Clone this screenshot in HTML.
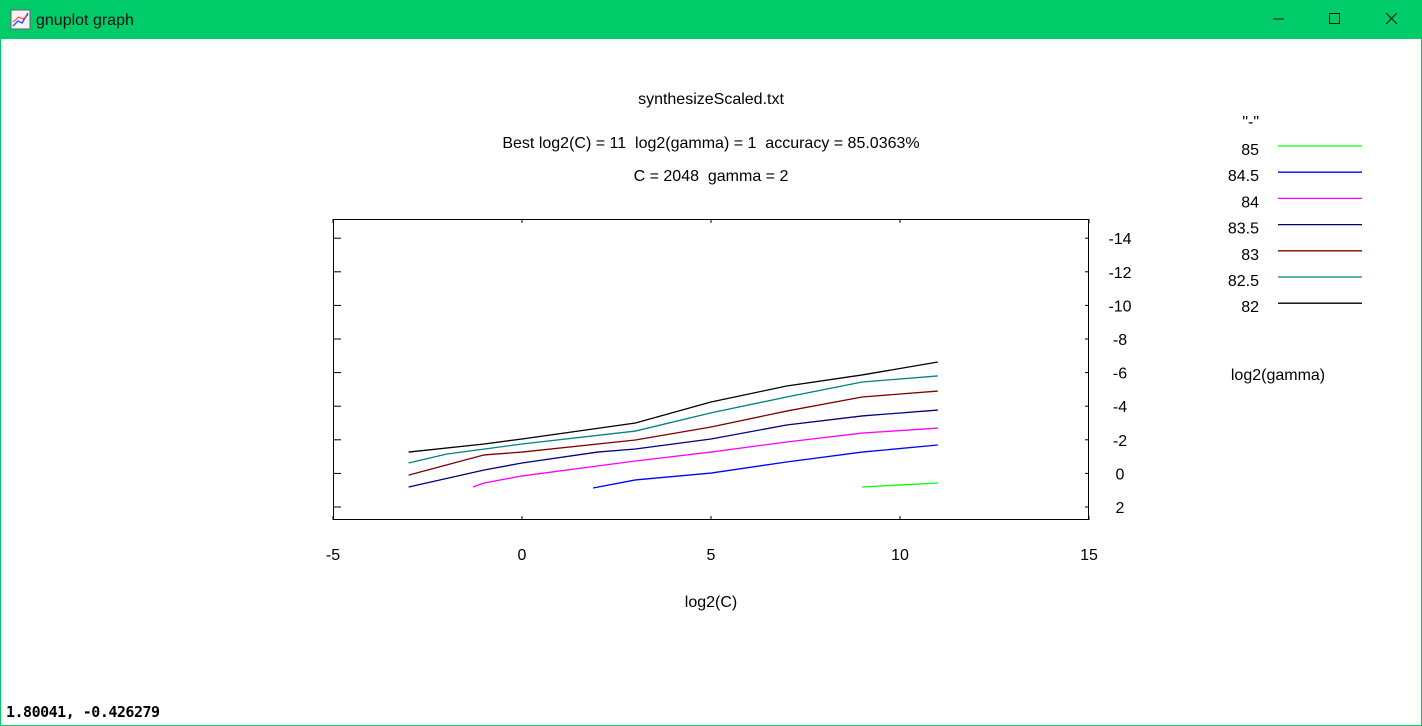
<!DOCTYPE html>
<html><head><meta charset="utf-8"><style>
body{margin:0;width:1422px;height:726px;overflow:hidden;background:#fff;font-family:"Liberation Sans",sans-serif}
#win{position:absolute;left:0;top:0;width:1420px;height:725px;border:1px solid #00cc66;border-top:none}
#bar{position:absolute;left:0;top:0;width:1422px;height:39px;background:#00cc6a}
</style></head><body>
<div id="win"></div>
<div id="bar">
<svg width="1422" height="39">
<rect x="11" y="10" width="19" height="19" fill="#f4f4f4" stroke="#666"/>
<polyline points="13,26 18,21 22,23 28,13" fill="none" stroke="#3355ff" stroke-width="1.5"/>
<polyline points="13,22 19,17 23,19 28,15" fill="none" stroke="#ff3333" stroke-width="1"/>
<text x="36" y="25" font-size="16" font-family="Liberation Sans, sans-serif" fill="#111">gnuplot graph</text>
<line x1="1273" y1="19" x2="1284" y2="19" stroke="#111"/>
<rect x="1329.5" y="13.5" width="10" height="10" fill="none" stroke="#111"/>
<g stroke="#111"><line x1="1386" y1="13" x2="1397" y2="24"/><line x1="1397" y1="13" x2="1386" y2="24"/></g>
</svg></div>
<svg id="chart" width="1422" height="726" style="position:absolute;left:0;top:0;pointer-events:none"></svg>
<div style="position:absolute;left:6px;top:703px;font-size:15px;font-weight:bold;font-family:'DejaVu Sans Mono','Liberation Mono',monospace;letter-spacing:-0.5px">1.80041, -0.426279</div>
<script>
const xTicks=[-5,0,5,10,15];
const yTicks=[2,0,-2,-4,-6,-8,-10,-12,-14];
const legendLabels=["85","84.5","84","83.5","83","82.5","82"];
const colors=["#00ff00","#0000ff","#ff00ff","#000080","#800000","#008080","#000000"];
const s85x=[9,11], s85y=[0.81,0.57];
const s845x=[1.88,3,5,7,9,11], s845y=[0.87,0.39,-0.02,-0.68,-1.27,-1.69];
const s84x=[-1.3,-1,0,3,5,7,9,11], s84y=[0.81,0.57,0.15,-0.74,-1.27,-1.87,-2.4,-2.7];
const s835x=[-3,-1,0,2,3,5,7,9,11], s835y=[0.81,-0.2,-0.62,-1.27,-1.45,-2.05,-2.88,-3.42,-3.77];
const s83x=[-3,-1,0,3,5,7,9,11], s83y=[0.1,-1.1,-1.27,-1.99,-2.76,-3.71,-4.55,-4.9];
const s825x=[-3,-2,0,3,5,7,9,11], s825y=[-0.62,-1.15,-1.75,-2.52,-3.6,-4.55,-5.44,-5.8];
const s82x=[-3,-1,0,3,5,7,9,11], s82y=[-1.27,-1.75,-2.05,-3.0,-4.25,-5.2,-5.86,-6.63];
const seriesX=[s85x,s845x,s84x,s835x,s83x,s825x,s82x];
const seriesY=[s85y,s845y,s84y,s835y,s83y,s825y,s82y];
const svg=document.getElementById('chart');
const NS='http://www.w3.org/2000/svg';
const L=333,R=1089,T=219,B=520;
const sx=v=>L+(v+5)*(R-L)/20;
const sy=v=>507-(2-v)*16.8;
function mk(t,a,p){const e=document.createElementNS(NS,t);for(const k in a)e.setAttribute(k,a[k]);(p||svg).appendChild(e);return e;}
function txt(x,y,s,anchor,name){const e=mk('text',{x:x,y:y,'font-size':16,'text-anchor':anchor,fill:'#000','font-family':'Liberation Sans, sans-serif'});e.setAttributeNS('http://www.w3.org/XML/1998/namespace','xml:space','preserve');e.style.whiteSpace='pre';e.textContent=s;

return e;}
const fr=mk('rect',{x:L+0.5,y:T+0.5,width:R-L-1,height:B-T-1,fill:'none',stroke:'#000'});


xTicks.forEach(v=>{const x=sx(v);
const a=mk('line',{x1:x,y1:B,x2:x,y2:B-4,stroke:'#000'});


mk('line',{x1:x,y1:T,x2:x,y2:T+4,stroke:'#000'});
txt(x,560,String(v),'middle','x-tick-label');});
yTicks.forEach(v=>{const y=sy(v);
const a=mk('line',{x1:R,y1:y,x2:R-4,y2:y,stroke:'#000'});


mk('line',{x1:L,y1:y,x2:L+8,y2:y,stroke:'#000'});
txt(1120,y+6,String(v),'middle','y-tick-label');});
txt(711,104,'synthesizeScaled.txt','middle','chart-title');
txt(711,148,'Best log2(C) = 11  log2(gamma) = 1  accuracy = 85.0363%','middle','best-params-subtitle');
txt(711,181,'C = 2048  gamma = 2','middle','c-gamma-subtitle');
txt(711,607,'log2(C)','middle','x-axis-title');
txt(1278,380,'log2(gamma)','middle','y-axis-title');
txt(1259,127,'"-"','end','legend-title');
seriesX.forEach((xs,i)=>{
const p=mk('polyline',{points:xs.map((x,j)=>sx(x)+','+sy(seriesY[i][j])).join(' '),fill:'none',stroke:colors[i],'stroke-width':1.3});


const ly=146+i*26.2;
const g=mk('g',{});


mk('line',{x1:1278,y1:ly,x2:1362,y2:ly,stroke:colors[i],'stroke-width':1.3},g);
const t=mk('text',{x:1259,y:ly+9,'font-size':16,'text-anchor':'end','font-family':'Liberation Sans, sans-serif'},g);t.textContent=legendLabels[i];
});
</script>
</body></html>
